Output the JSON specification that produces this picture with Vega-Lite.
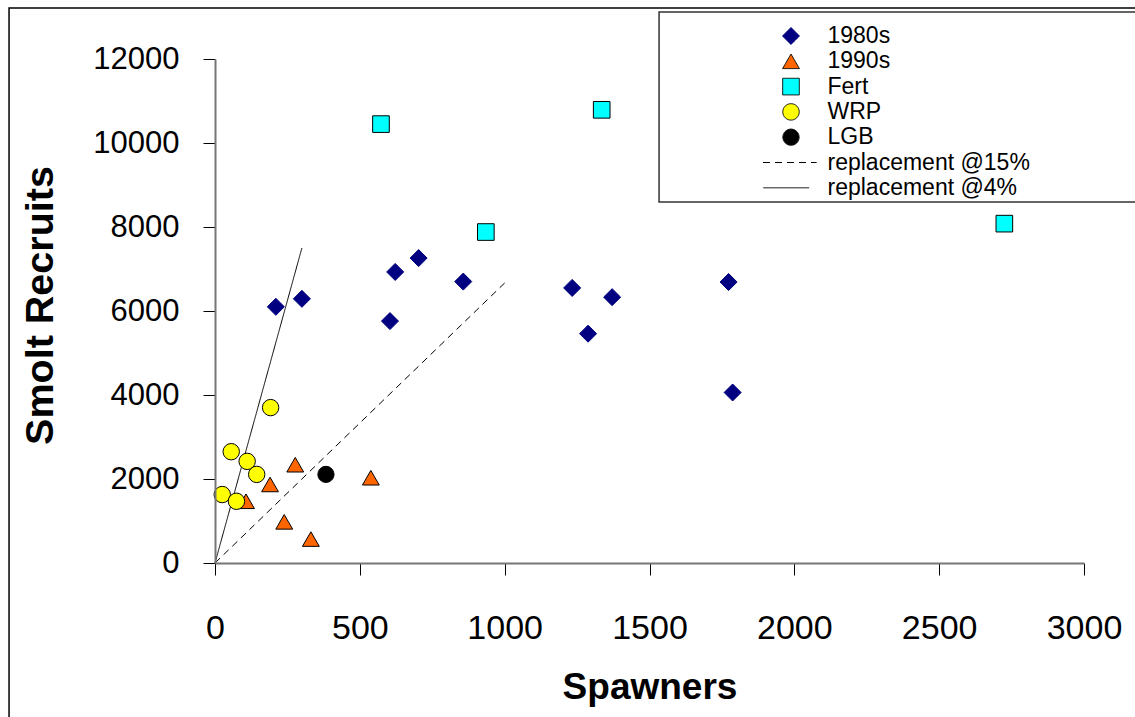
{
  "$schema": "https://vega.github.io/schema/vega-lite/v6.json",
  "width": 869,
  "height": 504,
  "autosize": "none",
  "padding": {"left": 215, "top": 59, "right": 51, "bottom": 154},
  "background": "white",
  "config": {
    "view": {"stroke": null},
    "font": "Liberation Sans",
    "legend": {
      "orient": "none",
      "legendX": 444,
      "legendY": -44,
      "padding": 9.5,
      "rowPadding": 1.3,
      "symbolSize": 230,
      "symbolStrokeWidth": 1,
      "symbolOffset": 111,
      "labelOffset": 25,
      "labelFont": "Liberation Sans",
      "labelFontSize": 23,
      "labelColor": "black",
      "labelLimit": 400
    }
  },
  "datasets": {
    "points": [
      {"series": "1980s", "spawners": 210, "recruits": 6100},
      {"series": "1980s", "spawners": 300, "recruits": 6290},
      {"series": "1980s", "spawners": 622, "recruits": 6930},
      {"series": "1980s", "spawners": 703, "recruits": 7260},
      {"series": "1980s", "spawners": 604, "recruits": 5760},
      {"series": "1980s", "spawners": 857, "recruits": 6700},
      {"series": "1980s", "spawners": 1233, "recruits": 6550},
      {"series": "1980s", "spawners": 1371, "recruits": 6330},
      {"series": "1980s", "spawners": 1288, "recruits": 5460},
      {"series": "1980s", "spawners": 1773, "recruits": 6690},
      {"series": "1980s", "spawners": 1787, "recruits": 4060},
      {"series": "1990s", "spawners": 277, "recruits": 2340},
      {"series": "1990s", "spawners": 190, "recruits": 1870},
      {"series": "1990s", "spawners": 107, "recruits": 1470},
      {"series": "1990s", "spawners": 239, "recruits": 980},
      {"series": "1990s", "spawners": 331, "recruits": 570},
      {"series": "1990s", "spawners": 538, "recruits": 2030},
      {"series": "Fert", "spawners": 573, "recruits": 10450},
      {"series": "Fert", "spawners": 1335, "recruits": 10790},
      {"series": "Fert", "spawners": 935, "recruits": 7880},
      {"series": "Fert", "spawners": 2725, "recruits": 8080},
      {"series": "WRP", "spawners": 192, "recruits": 3700},
      {"series": "WRP", "spawners": 56, "recruits": 2650},
      {"series": "WRP", "spawners": 111, "recruits": 2420},
      {"series": "WRP", "spawners": 144, "recruits": 2110},
      {"series": "WRP", "spawners": 25, "recruits": 1630},
      {"series": "WRP", "spawners": 74, "recruits": 1470},
      {"series": "LGB", "spawners": 383, "recruits": 2110}
    ],
    "lines": [
      {"series": "replacement @15%", "spawners": 0, "recruits": 0},
      {"series": "replacement @15%", "spawners": 1000, "recruits": 6667},
      {"series": "replacement @4%", "spawners": 0, "recruits": 0},
      {"series": "replacement @4%", "spawners": 300, "recruits": 7500}
    ]
  },
  "layer": [
    {
      "data": {"values": [{}]},
      "mark": {"type": "rect", "fill": "transparent", "stroke": "black", "strokeWidth": 1.5, "clip": false},
      "encoding": {
        "x": {"datum": -711, "type": "quantitative"},
        "x2": {"datum": 3210},
        "y": {"datum": 13214, "type": "quantitative"},
        "y2": {"datum": -4000}
      }
    },
    {
      "data": {"values": [{}]},
      "mark": {"type": "rect", "fill": "white", "stroke": "#333333", "strokeWidth": 1.5, "clip": false},
      "encoding": {
        "x": {"datum": 1533, "type": "quantitative"},
        "x2": {"datum": 3210},
        "y": {"datum": 13119, "type": "quantitative"},
        "y2": {"datum": 8595}
      }
    },
    {
      "data": {"name": "lines"},
      "mark": {"type": "line", "strokeWidth": 1, "clip": false},
      "encoding": {
        "x": {
          "field": "spawners", "type": "quantitative",
          "scale": {"domain": [0, 3000], "nice": false},
          "axis": {
            "title": "Spawners",
            "zindex": 1,
            "values": [0, 500, 1000, 1500, 2000, 2500, 3000],
            "format": "d",
            "grid": false,
            "domainColor": "#777777",
            "domainWidth": 2,
            "tickColor": "black",
            "tickSize": 12,
            "tickWidth": 1,
            "labelFont": "Liberation Sans",
            "labelFontSize": 34,
            "labelColor": "black",
            "labelPadding": 36,
            "labelFlush": false,
            "labelOverlap": false,
            "titleFont": "Liberation Sans",
            "titleFontSize": 37,
            "titleFontWeight": "bold",
            "titleColor": "black",
            "titleY": 135,
            "titleBaseline": "alphabetic"
          }
        },
        "y": {
          "field": "recruits", "type": "quantitative",
          "scale": {"domain": [0, 12000], "nice": false},
          "axis": {
            "title": "Smolt Recruits",
            "zindex": 1,
            "values": [0, 2000, 4000, 6000, 8000, 10000, 12000],
            "format": "d",
            "grid": false,
            "domainColor": "#777777",
            "domainWidth": 2,
            "tickColor": "black",
            "tickSize": 12,
            "tickWidth": 1,
            "labelFont": "Liberation Sans",
            "labelFontSize": 31,
            "labelColor": "black",
            "labelPadding": 24,
            "labelFlush": false,
            "labelOverlap": false,
            "titleFont": "Liberation Sans",
            "titleFontSize": 39.5,
            "titleFontWeight": "bold",
            "titleColor": "black",
            "titleX": -175,
            "titleY": 246,
            "titleAngle": 270,
            "titleAlign": "center",
            "titleBaseline": "middle"
          }
        },
        "stroke": {
          "field": "series", "type": "nominal", "title": null,
          "scale": {
            "domain": ["1980s", "1990s", "Fert", "WRP", "LGB", "replacement @15%", "replacement @4%"],
            "range": ["#000080", "#000000", "#000000", "#000000", "#000000", "#000000", "#000000"]
          }
        },
        "strokeDash": {
          "field": "series", "type": "nominal", "title": null,
          "scale": {
            "domain": ["1980s", "1990s", "Fert", "WRP", "LGB", "replacement @15%", "replacement @4%"],
            "range": [[1, 0], [1, 0], [1, 0], [1, 0], [1, 0], [7, 5], [1, 0]]
          }
        }
      }
    },
    {
      "data": {"name": "points"},
      "mark": {"type": "point", "filled": true, "opacity": 1, "strokeWidth": 1},
      "encoding": {
        "x": {"field": "spawners", "type": "quantitative"},
        "y": {"field": "recruits", "type": "quantitative"},
        "fill": {
          "field": "series", "type": "nominal", "title": null,
          "scale": {
            "domain": ["1980s", "1990s", "Fert", "WRP", "LGB", "replacement @15%", "replacement @4%"],
            "range": ["#000080", "#FF6600", "#00FFFF", "#FFFF00", "#000000", "transparent", "transparent"]
          }
        },
        "stroke": {"field": "series", "type": "nominal", "title": null},
        "size": {
          "field": "series", "type": "nominal", "title": null,
          "scale": {
            "domain": ["1980s", "1990s", "Fert", "WRP", "LGB", "replacement @15%", "replacement @4%"],
            "range": [290, 250, 220, 190, 220, 230, 230]
          }
        },
        "shape": {
          "field": "series", "type": "nominal", "title": null,
          "scale": {
            "domain": ["1980s", "1990s", "Fert", "WRP", "LGB", "replacement @15%", "replacement @4%"],
            "range": ["diamond", "triangle-up", "square", "circle", "circle", "M-3.5,0H3.2", "M-3.5,0H2.3"]
          }
        }
      }
    }
  ]
}
